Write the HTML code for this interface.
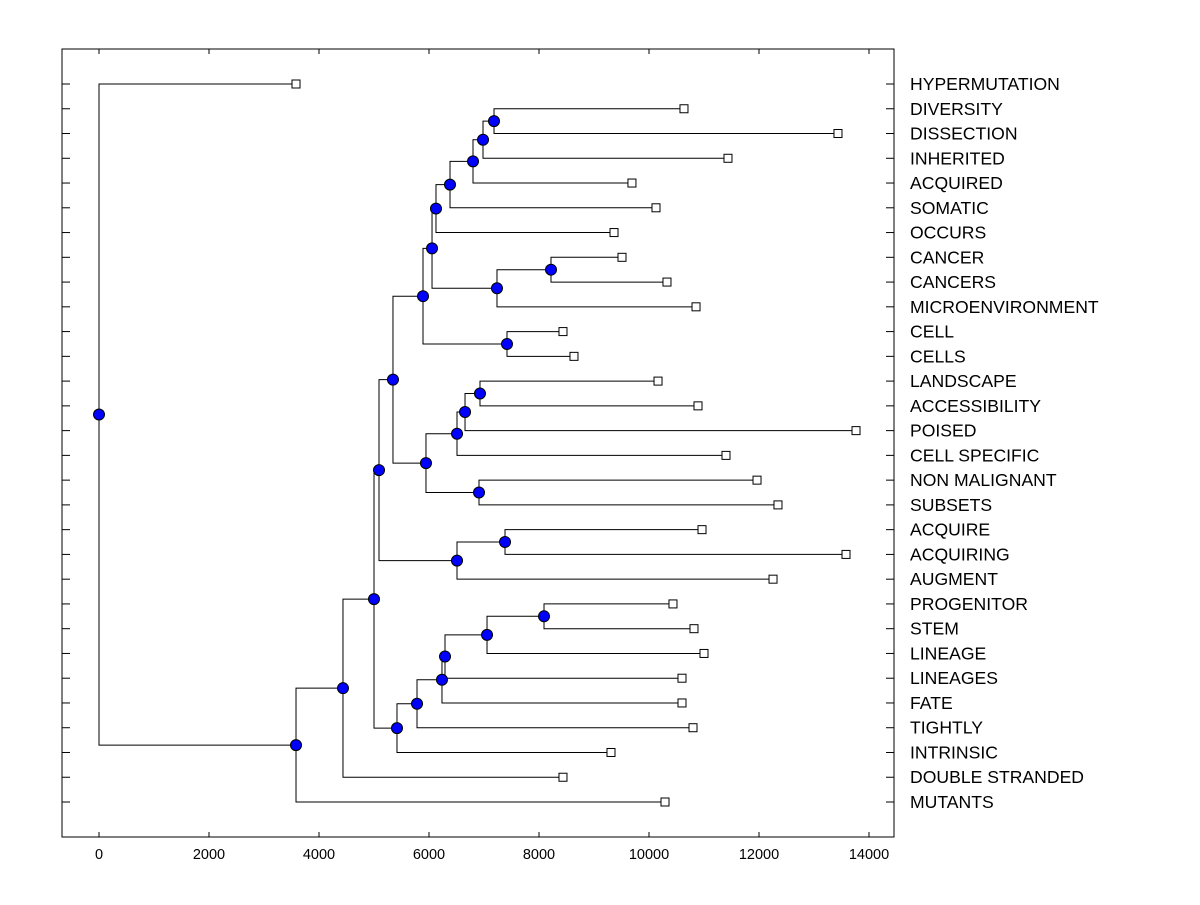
<!DOCTYPE html>
<html><head><meta charset="utf-8"><style>
body{margin:0;background:#fff;}
svg text{font-family:"Liberation Sans",Arial,sans-serif;}
</style></head><body>
<svg id="chart" width="1200" height="900">
<rect x="62" y="49" width="832" height="788" fill="#fff" stroke="#000" stroke-width="1"/>
<g id="ticks"></g><g id="links"></g><g id="marks"></g><g id="labels"></g>
</svg>
<script>
const leafLabels=["HYPERMUTATION","DIVERSITY","DISSECTION","INHERITED","ACQUIRED","SOMATIC","OCCURS","CANCER","CANCERS","MICROENVIRONMENT","CELL","CELLS","LANDSCAPE","ACCESSIBILITY","POISED","CELL SPECIFIC","NON MALIGNANT","SUBSETS","ACQUIRE","ACQUIRING","AUGMENT","PROGENITOR","STEM","LINEAGE","LINEAGES","FATE","TIGHTLY","INTRINSIC","DOUBLE STRANDED","MUTANTS"];
const leafHeights=[3582,10636,13436,11436,9690,10127,9364,9509,10327,10855,8436,8636,10164,10891,13764,11400,11964,12345,10964,13582,12255,10436,10818,11000,10600,10600,10800,9309,8436,10291];
// internal nodes: [height, childA, childB]; numbers = leaf indices
const tree=[0,0,[3582,[4436,[5000,
  [5091,
    [5345,
      [5891,
        [6055,
          [6127,[6382,[6800,[6982,[7182,1,2],3],4],5],6],
          [7236,[8218,7,8],9]],
        [7418,10,11]],
      [5945,
        [6509,[6655,[6927,12,13],14],15],
        [6909,16,17]]],
    [6509,[7382,18,19],20]],
  [5418,[5782,[6236,[6291,[7055,[8091,21,22],23],24],25],26],27]],28],29]];
const xTicks=[0,2000,4000,6000,8000,10000,12000,14000];

const NS="http://www.w3.org/2000/svg";
const X0=99,XS=770/14000,Y0=84,YS=(802-84)/29,L=62,R=894,T=49,B=837;
const xs=v=>X0+v*XS, ys=i=>Y0+i*YS;
function mk(tag,attrs,parent){const e=document.createElementNS(NS,tag);for(const k in attrs)e.setAttribute(k,attrs[k]);document.getElementById(parent).appendChild(e);return e;}

xTicks.forEach(t=>{
  const x=xs(t);
  let e=mk('line',{x1:x,x2:x,y1:B,y2:B-5,stroke:'#000'},'ticks');
  
  
  e=mk('line',{x1:x,x2:x,y1:T,y2:T+5,stroke:'#000'},'ticks');
  
  
  e=mk('text',{x:x,y:859,'text-anchor':'middle','font-size':'14.5'},'labels');
  e.textContent=t;
  
  
});
leafLabels.forEach((lab,i)=>{
  const y=ys(i);
  let e=mk('line',{x1:L,x2:L+8,y1:y,y2:y,stroke:'#000'},'ticks');
  
  
  e=mk('line',{x1:R-8,x2:R,y1:y,y2:y,stroke:'#000'},'ticks');
  
  
  e=mk('text',{x:910,y:y+6,'font-size':'17.6'},'labels');
  e.textContent=lab;
  
  
});
const circles=[];
function draw(n){
  if(typeof n==='number'){
    const x=xs(leafHeights[n]),y=ys(n);
    const e=mk('rect',{x:x-4,y:y-4,width:8,height:8,fill:'#fff',stroke:'#000'},'marks');
    
    
    return {x,y};
  }
  const x=xs(n[0]);const a=draw(n[1]),b=draw(n[2]);
  const y=(a.y+b.y)/2;
  const p=mk('path',{d:`M${a.x},${a.y}H${x}V${b.y}H${b.x}`,fill:'none',stroke:'#000'},'links');
  
  
  circles.push({x,y});
  return {x,y};
}
draw(tree);
circles.forEach(c=>{
  const e=mk('circle',{cx:c.x,cy:c.y,r:5.5,fill:'#0000ff',stroke:'#000','stroke-width':1},'marks');
  
  
});
</script>
</body></html>
